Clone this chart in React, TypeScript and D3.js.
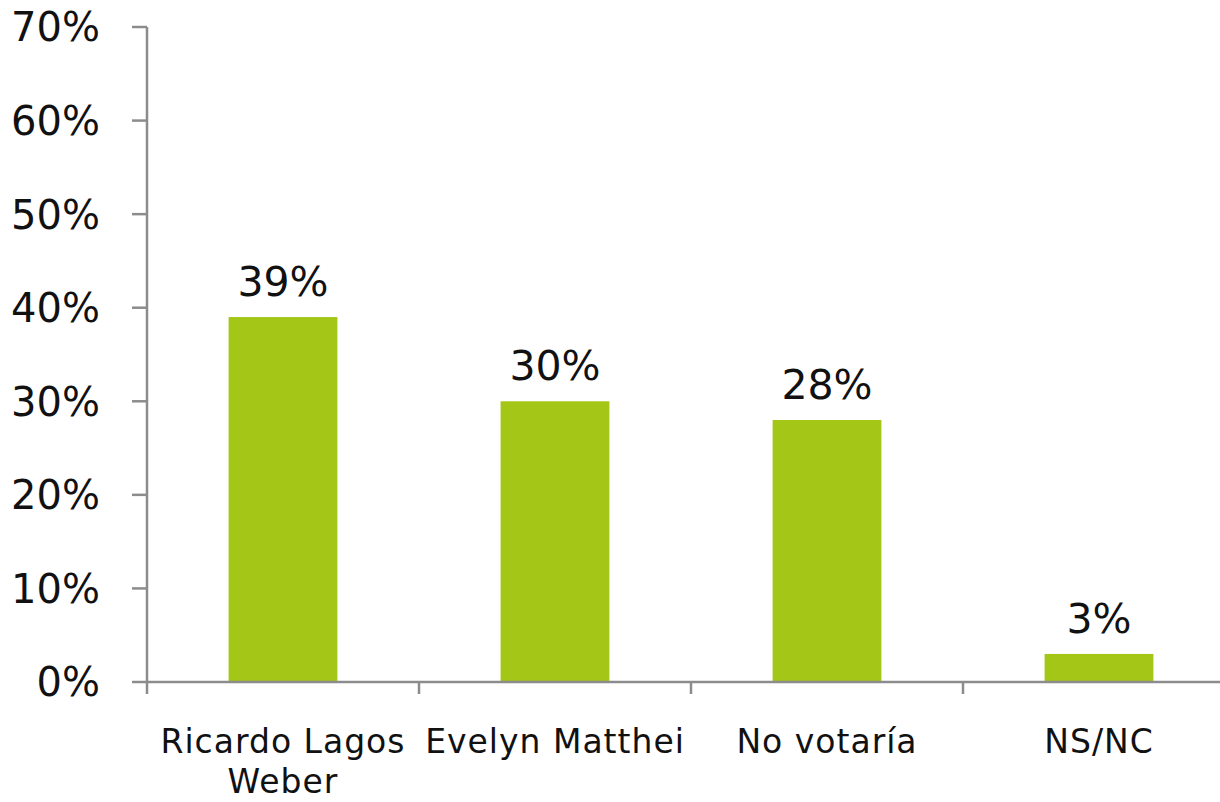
import React from "react";
import * as d3 from "d3";

const categories: string[][] = [["Ricardo Lagos", "Weber"], ["Evelyn Matthei"], ["No votaría"], ["NS/NC"]];
const values: number[] = [39, 30, 28, 3];
const yTicks: number[] = [0, 10, 20, 30, 40, 50, 60, 70];

const W = 1220;
const H = 802;
const FONT = "'DejaVu Sans', sans-serif";

export default function App() {
  const x = d3.scaleBand<number>().domain(d3.range(categories.length)).range([147, 1235]).paddingInner(0).paddingOuter(0);
  const y = d3.scaleLinear().domain([0, 70]).range([682, 27]);
  const bw = x.bandwidth() * 0.4;
  const axisColor = "#8c8c8c";
  return (
    <svg width={W} height={H} style={{ position: "absolute", left: 0, top: 0, background: "#fff" }}>
      {values.map((v, i) => (
        <rect key={i} x={x(i)! + x.bandwidth() / 2 - bw / 2} y={y(v)} width={bw} height={y(0) - y(v)} fill="#a3c617" />
      ))}
      {values.map((v, i) => (
        <text key={"l" + i} x={x(i)! + x.bandwidth() / 2} y={y(v) - 21} textAnchor="middle" fontFamily={FONT} fontSize={41} fill="#111">
          {v}%
        </text>
      ))}
      <line x1={147} x2={147} y1={27} y2={683} stroke={axisColor} strokeWidth={2.5} />
      {yTicks.map((t) => (
        <g key={"t" + t}>
          <line x1={132} x2={147} y1={y(t)} y2={y(t)} stroke={axisColor} strokeWidth={2.5} />
          <text x={100} y={y(t)} dy="0.36em" textAnchor="end" fontFamily={FONT} fontSize={40} fill="#111">
            {t}%
          </text>
        </g>
      ))}
      <line x1={146} x2={1235} y1={682} y2={682} stroke={axisColor} strokeWidth={2.5} />
      {d3.range(categories.length + 1).map((i) => {
        const xx = i < categories.length ? x(i)! : x.range()[1];
        return <line key={"xt" + i} x1={xx} x2={xx} y1={682} y2={694} stroke={axisColor} strokeWidth={2.5} />;
      })}
      {categories.map((lines, i) => (
        <text key={"c" + i} x={x(i)! + x.bandwidth() / 2} y={753} textAnchor="middle" fontFamily={FONT} fontSize={33} letterSpacing={1} fill="#111">
          {lines.map((s, j) => (
            <tspan key={j} x={x(i)! + x.bandwidth() / 2} dy={j === 0 ? 0 : 40}>
              {s}
            </tspan>
          ))}
        </text>
      ))}
    </svg>
  );
}
